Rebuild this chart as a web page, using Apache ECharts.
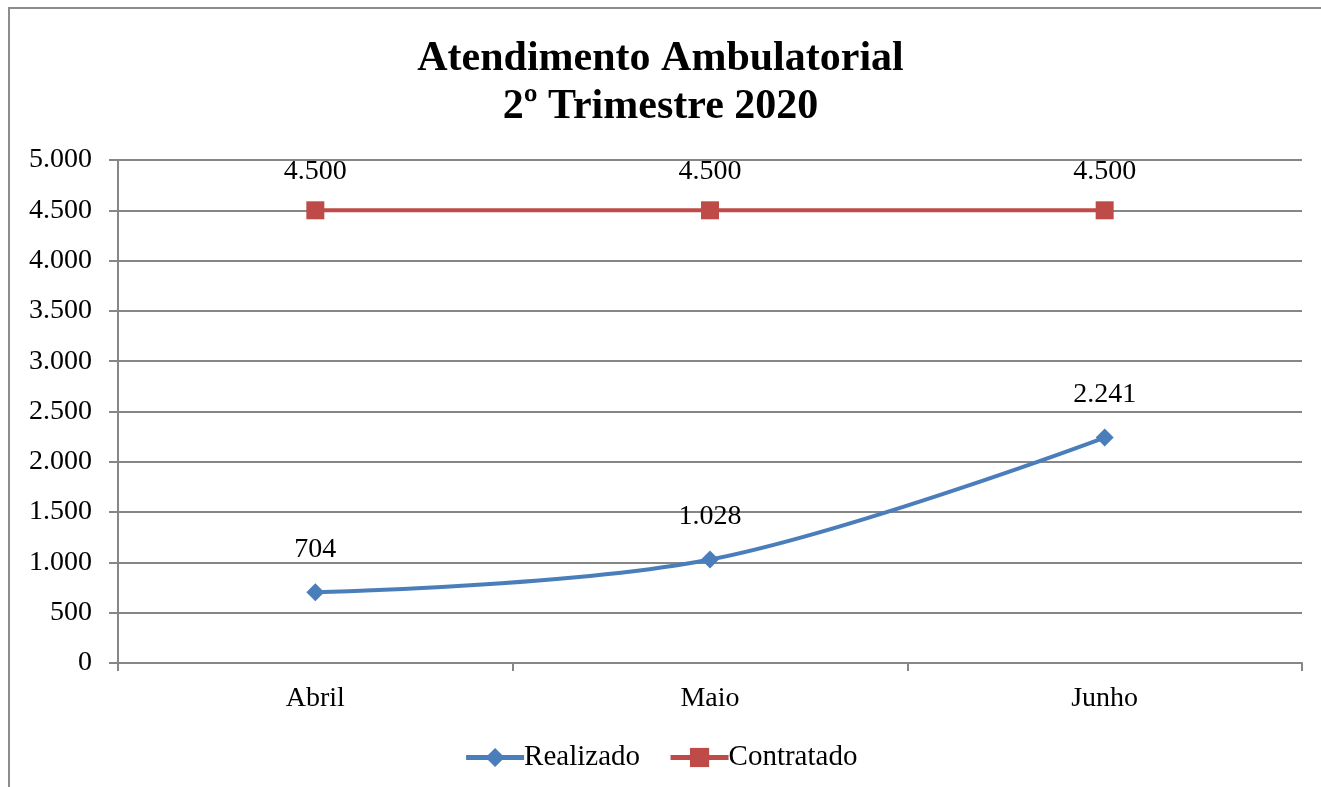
<!DOCTYPE html>
<html>
<head>
<meta charset="utf-8">
<script src="https://cdn.jsdelivr.net/npm/echarts@6/dist/echarts.min.js"></script>
<style>
  html, body { margin: 0; padding: 0; background: #fff; }
  #main { width: 1321px; height: 787px; }
</style>
</head>
<body>
<div id="main"></div>
<script>
// chart data
const months = ["Abril", "Maio", "Junho"];
const realizado = [704, 1028, 2241];
const contratado = [4500, 4500, 4500];

const serif = "'Liberation Serif', 'Times New Roman', serif";

// 1.028 style (pt-BR thousands separator)
function fmt(v) {
  return String(v).replace(/\B(?=(\d{3})+(?!\d))/g, ".");
}

const myChart = echarts.init(document.getElementById("main"));

const options = {
  animation: false,
  backgroundColor: "#fff",
  title: {
    text: "Atendimento Ambulatorial\n2º Trimestre 2020",
    left: "center",
    top: 30,
    textStyle: {
      fontFamily: serif,
      fontWeight: "bold",
      fontSize: 42,
      lineHeight: 48,
      color: "#000",
    },
  },
  graphic: [
    {
      type: "rect",
      shape: { x: 9, y: 8, width: 1330, height: 800 },
      style: { fill: null, stroke: "#8c8c8c", lineWidth: 2 },
      silent: true,
    },
  ],
  grid: { left: 118, right: 19, top: 160, bottom: 124 },
  legend: {
    bottom: 10,
    left: "center",
    itemWidth: 58,
    itemHeight: 24,
    itemGap: 28,
    lineStyle: { width: 5 },
    textStyle: { fontFamily: serif, fontSize: 29, color: "#000", padding: [0, 0, 0, -5] },
    data: ["Realizado", "Contratado"],
  },
  xAxis: {
    type: "category",
    data: months,
    boundaryGap: true,
    axisLine: { lineStyle: { color: "#868686", width: 2 } },
    axisTick: { show: true, length: 8, lineStyle: { color: "#868686", width: 2 } },
    axisLabel: { fontFamily: serif, fontSize: 28, color: "#000", margin: 22 },
  },
  yAxis: {
    type: "value",
    min: 0,
    max: 5000,
    interval: 500,
    axisLine: { show: true, lineStyle: { color: "#868686", width: 2 } },
    axisTick: { show: true, length: 9, lineStyle: { color: "#868686", width: 2 } },
    splitLine: { lineStyle: { color: "#868686", width: 2 } },
    axisLabel: {
      fontFamily: serif,
      fontSize: 28,
      color: "#000",
      margin: 26,
      formatter: fmt,
    },
  },
  series: [
    {
      name: "Realizado",
      type: "line",
      data: realizado,
      smooth: 0.35,
      symbol: "diamond",
      symbolSize: 18,
      itemStyle: { color: "#4A7EBB" },
      lineStyle: { color: "#4A7EBB", width: 4 },
      label: {
        show: true,
        position: "top",
        distance: 20,
        fontFamily: serif,
        fontSize: 28,
        color: "#000",
        formatter: (p) => fmt(p.value),
      },
    },
    {
      name: "Contratado",
      type: "line",
      data: contratado,
      symbol: "rect",
      symbolSize: 18,
      itemStyle: { color: "#BE4B48" },
      lineStyle: { color: "#BE4B48", width: 4 },
      label: {
        show: true,
        position: "top",
        distance: 16,
        fontFamily: serif,
        fontSize: 28,
        color: "#000",
        formatter: (p) => fmt(p.value),
      },
    },
  ],
};

myChart.setOption(options);
</script>
</body>
</html>
